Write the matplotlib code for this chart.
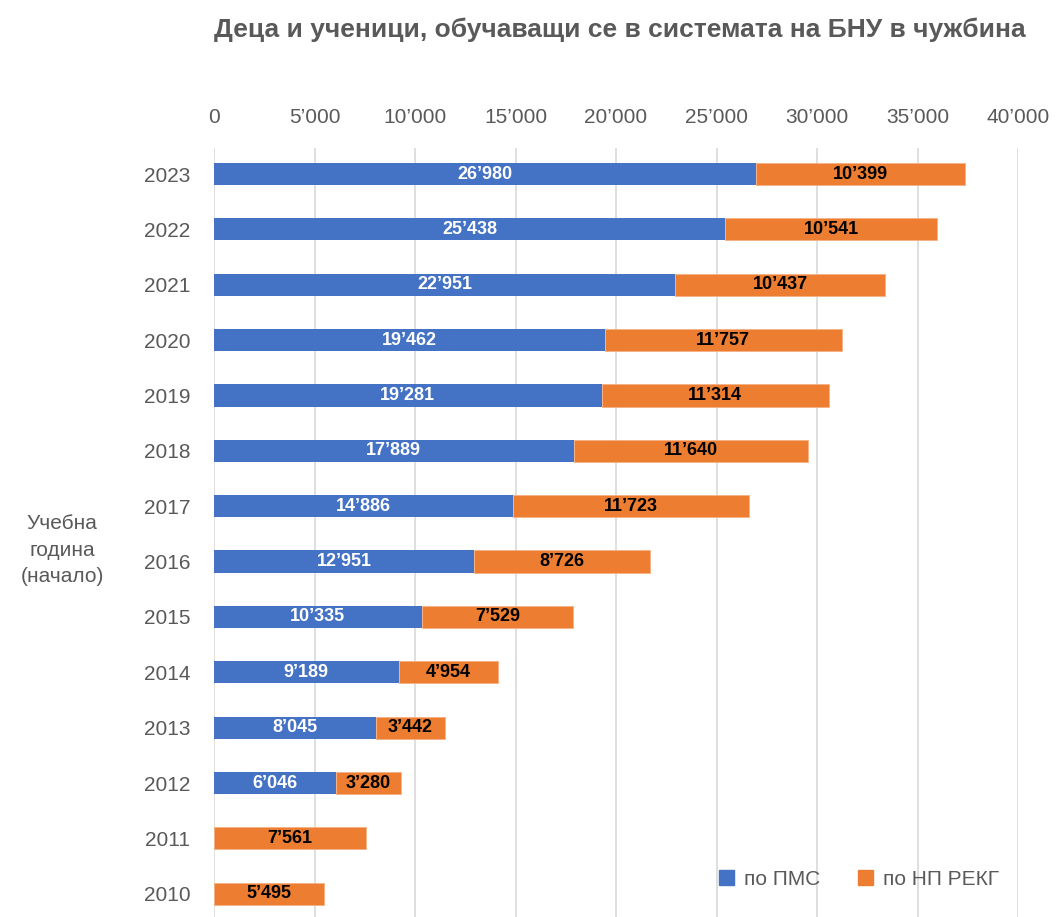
import numpy as np
import matplotlib
matplotlib.use("Agg")
import matplotlib.pyplot as plt
from matplotlib.patches import Patch

# данни
years = [2010, 2011, 2012, 2013, 2014, 2015, 2016, 2017, 2018, 2019, 2020, 2021, 2022, 2023]
pms = [0, 0, 6046, 8045, 9189, 10335, 12951, 14886, 17889, 19281, 19462, 22951, 25438, 26980]
rekg = [5495, 7561, 3280, 3442, 4954, 7529, 8726, 11723, 11640, 11314, 11757, 10437, 10541, 10399]
xticks = [0, 5000, 10000, 15000, 20000, 25000, 30000, 35000, 40000]

blue = "#4472C4"
orange = "#ED7D31"
gray = "#595959"

def fmt(v):
    return f"{v:,}".replace(",", "\u2019")

plt.rcParams["font.family"] = ["Liberation Sans", "DejaVu Sans"]

fig = plt.figure(figsize=(10.56, 9.17), dpi=100)
ax = fig.add_axes([214 / 1056, 0, (1018 - 214) / 1056, (917 - 148) / 917])

y = np.arange(len(years))
ax.barh(y, pms, height=0.4, color=blue, zorder=3)
ax.barh(y, rekg, left=pms, height=0.4, color=orange, edgecolor="#F4B183", linewidth=0.6, zorder=3)

for i in range(len(years)):
    if pms[i] > 0:
        ax.text(pms[i] / 2, y[i], fmt(pms[i]), ha="center", va="center",
                color="white", fontsize=13, fontweight="bold", zorder=4)
    ax.text(pms[i] + rekg[i] / 2, y[i], fmt(rekg[i]), ha="center", va="center",
            color="black", fontsize=13, fontweight="bold", zorder=4)

ax.set_xlim(0, 40000)
ax.set_ylim(-0.42, 13.47)
ax.set_xticks(xticks)
ax.set_xticklabels([fmt(t) for t in xticks])
ax.xaxis.tick_top()
ax.set_yticks(y)
ax.set_yticklabels([str(v) for v in years])
ax.tick_params(axis="both", length=0, labelsize=15, colors=gray)
ax.tick_params(axis="x", pad=15)
ax.tick_params(axis="y", pad=17)
ax.grid(axis="x", color="#D9D9D9", linewidth=1.2, zorder=0)
for s in ax.spines.values():
    s.set_visible(False)

fig.text(620 / 1056, 1 - 30 / 917, "Деца и ученици, обучаващи се в системата на БНУ в чужбина",
         ha="center", va="center", fontsize=19, fontweight="bold", color=gray)
fig.text(62 / 1056, 1 - 550 / 917, "Учебна\nгодина\n(начало)", ha="center", va="center",
         fontsize=15, color=gray, linespacing=1.5)

handles = [Patch(color=blue, label="по ПМС"), Patch(color=orange, label="по НП РЕКГ")]
ax.legend(handles=handles, loc="lower right", bbox_to_anchor=(1.0, 0.012), ncol=2, frameon=False,
          fontsize=15, labelcolor=gray, handlelength=0.7, handleheight=0.7, columnspacing=1.8,
          handletextpad=0.5)

fig.savefig("out.png", dpi=100)
